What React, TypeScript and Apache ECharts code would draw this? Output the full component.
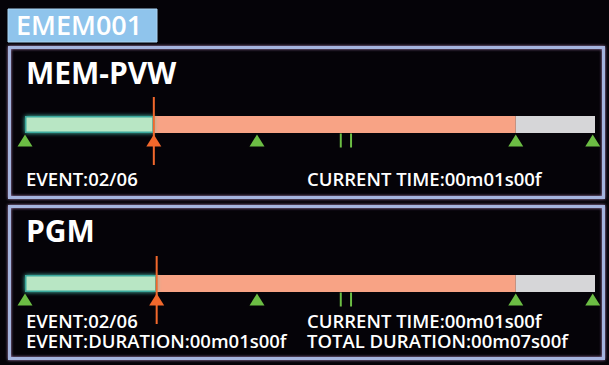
import React, { useEffect, useRef } from "react";
import * as echarts from "echarts";

// Track positions in percent of total duration (0..100)
const panels = ["MEM-PVW", "PGM"];
const playedEnd = [22.6, 23.1]; // green segment end / playhead
const cuedEnd = [86.1, 86.1]; // salmon segment end
const trackEnd = [100, 100];
const markers = [0, 40.7, 86.1, 99.6]; // green triangles
const splitMarks = [55.4, 57.2]; // double green lines
const leftLines = [["EVENT:02/06"], ["EVENT:02/06", "EVENT:DURATION:00m01s00f"]];
const rightLines = [["CURRENT TIME:00m01s00f"], ["CURRENT TIME:00m01s00f", "TOTAL DURATION:00m07s00f"]];
const tabTitle = "EMEM001";

const FONT = "'Open Sans', 'Noto Sans', sans-serif";

export default function App() {
  const ref = useRef<HTMLDivElement>(null);
  useEffect(() => {
    if (!ref.current) return;
    const chart = echarts.init(ref.current, null, { renderer: "svg" });
    const gridTops = [116, 275];
    const grids = gridTops.map((t) => ({ left: 25, width: 570, top: t, height: 17 }));
    const xAxis = grids.map((_, i) => ({ gridIndex: i, type: "value", min: 0, max: 100, show: false }));
    const yAxis = grids.map((_, i) => ({ gridIndex: i, type: "category", data: ["track"], show: false }));
    const series: any[] = [];
    panels.forEach((_, i) => {
      const base = { type: "bar", xAxisIndex: i, yAxisIndex: i, stack: "s" + i, barWidth: 17, silent: true };
      series.push({
        ...base,
        data: [playedEnd[i]],
        itemStyle: { color: "#b8e6c4", borderColor: "#3aa89c", borderWidth: 1.5, shadowBlur: 4, shadowColor: "#46c8b4" },
        z: 3,
      });
      series.push({ ...base, data: [cuedEnd[i] - playedEnd[i]], itemStyle: { color: "#f8a385" }, z: 2 });
      series.push({ ...base, data: [trackEnd[i] - cuedEnd[i]], itemStyle: { color: "#d6d6d8" }, z: 2 });
      const sc = { type: "scatter", xAxisIndex: i, yAxisIndex: i, clip: false, silent: true, z: 5 };
      series.push({
        ...sc,
        symbol: "triangle",
        symbolSize: [15, 12],
        symbolOffset: [0, 16],
        itemStyle: { color: "#6cbd44", opacity: 1 },
        data: markers.map((m) => [m, "track"]),
      });
      series.push({
        ...sc,
        symbol: "rect",
        symbolSize: [2, 14],
        symbolOffset: [0, 16],
        itemStyle: { color: "#6cbd44", opacity: 1 },
        data: splitMarks.map((m) => [m, "track"]),
      });
      series.push({
        ...sc,
        symbol: "rect",
        symbolSize: [2, 68],
        symbolOffset: [0, 6.5],
        itemStyle: { color: "#f2682c", opacity: 1 },
        data: [[playedEnd[i], "track"]],
      });
      series.push({
        ...sc,
        symbol: "triangle",
        symbolSize: [15, 12],
        symbolOffset: [0, 16],
        itemStyle: { color: "#f2682c", opacity: 1 },
        data: [[playedEnd[i], "track"]],
      });
    });

    const txt = (x: number, y: number, text: string, size: number, weight: number | string, lh: number) => ({
      type: "text",
      x,
      y,
      silent: true,
      style: {
        text,
        fill: "#ffffff",
        fontFamily: FONT,
        fontSize: size,
        fontWeight: weight,
        lineHeight: lh,
        verticalAlign: "middle",
        align: "left",
      },
    });

    const panelRects = [
      { y: 47.5, h: 150 },
      { y: 206.5, h: 152 },
    ];
    const titleY = [72, 230];
    const textY = [178.5, 330];
    const graphic: any[] = [];
    panelRects.forEach((p) => {
      graphic.push({
        type: "rect",
        shape: { x: 9.5, y: p.y, width: 594, height: p.h },
        style: { fill: "none", stroke: "#a5b4de", lineWidth: 3, shadowBlur: 3, shadowColor: "#b08ac0" },
        z: 1,
      });
    });
    graphic.push({
      type: "rect",
      shape: { x: 8, y: 9, width: 149, height: 33 },
      style: { fill: "#8fc4ec", stroke: "#a9d3f2", lineWidth: 1 },
    });
    graphic.push(txt(16, 24, tabTitle, 27, 600, 27));
    panels.forEach((name, i) => {
      graphic.push(txt(26, titleY[i], name, 30, "bold", 30));
      graphic.push(txt(26, textY[i], leftLines[i].join("\n"), 18.5, 600, 20));
      graphic.push(txt(307, textY[i], rightLines[i].join("\n"), 18.5, 600, 20));
    });

    chart.setOption({
      animation: false,
      backgroundColor: "#050308",
      grid: grids,
      xAxis,
      yAxis,
      series,
      graphic,
    });
    return () => chart.dispose();
  }, []);
  return <div ref={ref} style={{ width: 609, height: 365, position: "fixed", left: 0, top: 0 }} />;
}
